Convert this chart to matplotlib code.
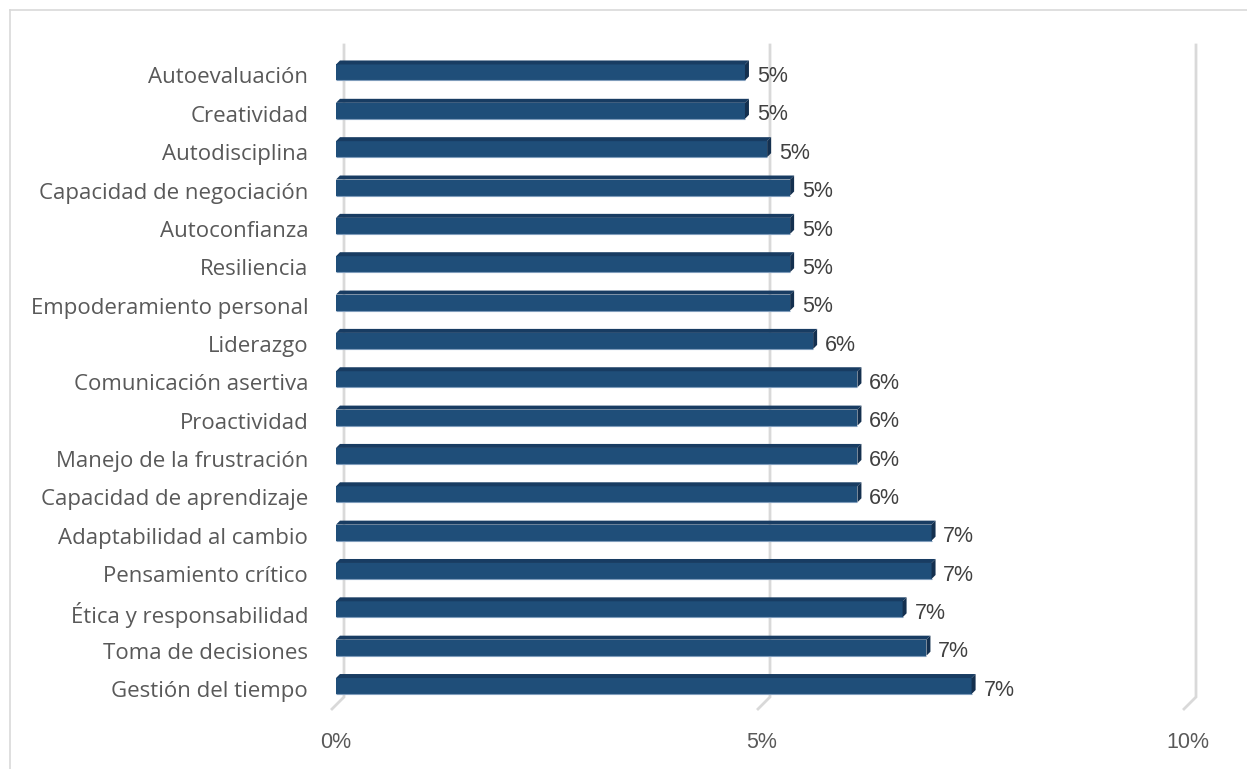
import numpy as np
import matplotlib
matplotlib.use('Agg')
import matplotlib.pyplot as plt
from matplotlib.patches import Polygon
from matplotlib.lines import Line2D
from matplotlib.transforms import ScaledTranslation

# ── Data (bottom to top) ─────────────────────────────────────────────────────
CATEGORIES = [
    'Gestión del tiempo',
    'Toma de decisiones',
    'Ética y responsabilidad',
    'Pensamiento crítico',
    'Adaptabilidad al cambio',
    'Capacidad de aprendizaje',
    'Manejo de la frustración',
    'Proactividad',
    'Comunicación asertiva',
    'Liderazgo',
    'Empoderamiento personal',
    'Resiliencia',
    'Autoconfianza',
    'Capacidad de negociación',
    'Autodisciplina',
    'Creatividad',
    'Autoevaluación',
]
VALUES = [7.46, 6.93, 6.65, 6.99, 6.99, 6.12, 6.12, 6.12, 6.12,
          5.60, 5.33, 5.33, 5.33, 5.33, 5.06, 4.80, 4.80]
XTICKS = [0, 5, 10]

# ── Style ────────────────────────────────────────────────────────────────────
plt.rcParams['font.family'] = ['Open Sans', 'DejaVu Sans']
NUM_FONT = ['Liberation Sans', 'DejaVu Sans']
C_FRONT = '#1F4E79'
C_TOP   = '#183C62'
C_SIDE  = '#14304F'
C_EDGE  = '#7F9CBB'
C_GRID  = '#D9D9D9'
C_TEXT  = '#595959'

W, H = 1247, 769
fig = plt.figure(figsize=(W / 100, H / 100), dpi=100)
fig.patch.set_facecolor('white')

# outer chart frame
fig.add_artist(Line2D([10 / W, 1], [1 - 10 / H, 1 - 10 / H], color=C_GRID, lw=1.2))
fig.add_artist(Line2D([10 / W, 10 / W], [0, 1 - 10 / H], color=C_GRID, lw=1.2))

px_per_x = 85.2
px_per_y = 38.34
left_px, bottom_px, top_px = 336, 705.2, 53.3
ax = fig.add_axes([left_px / W, 1 - bottom_px / H,
                   10 * px_per_x / W, (bottom_px - top_px) / H])
ax.set_xlim(0, 10)
ax.set_ylim(-0.5, len(CATEGORIES) - 0.5)
ax.set_facecolor('none')
for sp in ax.spines.values():
    sp.set_visible(False)

# 3D depth offsets (data units)
back_dx = 8 / px_per_x
floor_dx, floor_dy = 4 / px_per_x, 3.8 / px_per_y
y_top = len(CATEGORIES) - 0.5 + 8.3 / px_per_y
y_floor = -0.5 + 8.2 / px_per_y

# back-wall gridlines with the floor edge
for t in XTICKS:
    ax.plot([t + back_dx, t + back_dx, t - floor_dx],
            [y_top, y_floor, -0.5 - floor_dy],
            color=C_GRID, lw=2, clip_on=False, zorder=0, solid_joinstyle='miter')

# bars with top and side faces
y = np.arange(len(CATEGORIES))
bar_h = 16 / px_per_y
dx, dy = 4 / px_per_x, 4 / px_per_y
ax.barh(y, VALUES, height=bar_h, color=C_FRONT, zorder=2)
for yi, v in zip(y, VALUES):
    yb, yt = yi - bar_h / 2, yi + bar_h / 2
    ax.add_patch(Polygon([(0, yt), (dx, yt + dy), (v + dx, yt + dy), (v, yt)],
                         closed=True, facecolor=C_TOP, edgecolor='none', zorder=3))
    ax.add_patch(Polygon([(v, yb), (v, yt), (v + dx, yt + dy), (v + dx, yb + dy)],
                         closed=True, facecolor=C_SIDE, edgecolor='none', zorder=3))
    ax.plot([0, v], [yb, yb], color=C_EDGE, lw=0.8, zorder=4, solid_capstyle='butt')
    ax.annotate(f'{v:.0f}%', xy=(v, yi), xytext=(8.5, -3), textcoords='offset points',
                ha='left', va='center', fontsize=15.5, color='#404040', family=NUM_FONT)

ax.set_yticks(y)
ax.set_yticklabels(CATEGORIES, fontsize=16, color=C_TEXT)
ax.set_xticks(XTICKS)
ax.set_xticklabels([f'{t}%' for t in XTICKS], fontsize=15.5, color=C_TEXT, family=NUM_FONT)
ax.tick_params(axis='both', length=0)
ax.tick_params(axis='x', pad=19)
ax.tick_params(axis='y', pad=20)

# nudge category labels slightly below the bar centres
shift = ScaledTranslation(0, -3 / 100, fig.dpi_scale_trans)
for tick in ax.yaxis.get_major_ticks():
    tick.label1.set_transform(tick.label1.get_transform() + shift)

fig.savefig('out.png', dpi=100, facecolor='white')
